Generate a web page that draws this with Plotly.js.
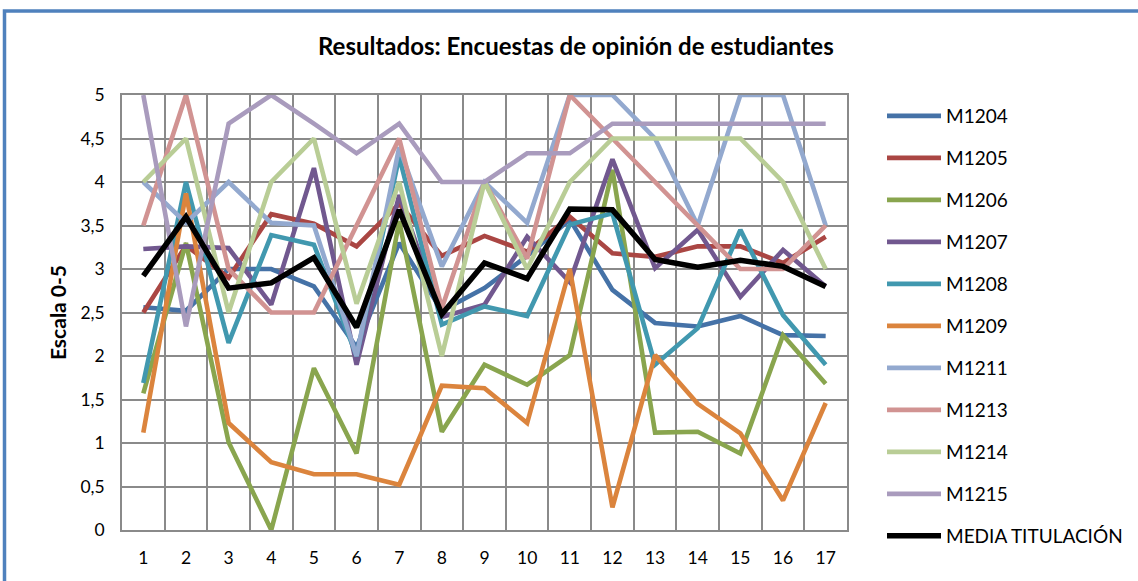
<!DOCTYPE html>
<html>
<head>
<meta charset="utf-8">
<script src="https://cdn.plot.ly/plotly-3.0.1.min.js"></script>
<style>
html,body{margin:0;padding:0;background:#fff;}
#chart{width:1138px;height:581px;}
</style>
</head>
<body>
<div id="chart"></div>
<script>
const categories = ["1","2","3","4","5","6","7","8","9","10","11","12","13","14","15","16","17"];
const seriesNames = ["M1204","M1205","M1206","M1207","M1208","M1209","M1211","M1213","M1214","M1215","MEDIA TITULACIÓN"];

const M1204 = [2.56, 2.52, 3.0, 3.0, 2.8, 2.1, 3.3, 2.52, 2.78, 3.15, 3.57, 2.76, 2.38, 2.34, 2.46, 2.24, 2.23];
const M1205 = [2.5, 3.27, 2.9, 3.63, 3.52, 3.26, 3.75, 3.15, 3.38, 3.2, 3.6, 3.18, 3.14, 3.26, 3.26, 3.07, 3.37];
const M1206 = [1.57, 3.3, 1.01, 0.0, 1.86, 0.88, 3.55, 1.13, 1.9, 1.67, 2.01, 4.14, 1.12, 1.13, 0.88, 2.24, 1.68];
const M1207 = [3.23, 3.26, 3.24, 2.59, 4.16, 1.9, 3.85, 2.45, 2.59, 3.37, 2.85, 4.26, 3.01, 3.45, 2.68, 3.22, 2.8];
const M1208 = [1.69, 4.0, 2.15, 3.39, 3.28, 2.0, 4.29, 2.36, 2.57, 2.46, 3.51, 3.64, 1.9, 2.32, 3.45, 2.47, 1.9];
const M1209 = [1.12, 3.87, 1.23, 0.78, 0.64, 0.64, 0.52, 1.66, 1.63, 1.23, 3.0, 0.26, 2.01, 1.45, 1.11, 0.34, 1.46];
const M1211 = [4.0, 3.53, 4.0, 3.53, 3.5, 2.0, 4.4, 3.03, 4.0, 3.53, 5.0, 5.0, 4.5, 3.5, 5.0, 5.0, 3.5];
const M1213 = [3.5, 5.0, 3.0, 2.5, 2.5, 3.5, 4.5, 2.55, 4.0, 3.12, 5.0, 4.5, 4.0, 3.5, 3.0, 3.0, 3.5];
const M1214 = [4.0, 4.5, 2.5, 4.0, 4.5, 2.6, 4.0, 2.0, 4.0, 3.0, 4.0, 4.5, 4.5, 4.5, 4.5, 4.0, 3.0];
const M1215 = [5.0, 2.34, 4.67, 5.0, 4.67, 4.33, 4.67, 4.0, 4.0, 4.33, 4.33, 4.67, 4.67, 4.67, 4.67, 4.67, 4.67];
const MEDIA = [2.92, 3.6, 2.78, 2.84, 3.13, 2.33, 3.68, 2.48, 3.07, 2.89, 3.69, 3.68, 3.11, 3.02, 3.1, 3.03, 2.8];

const yTickVals = [0,0.5,1,1.5,2,2.5,3,3.5,4,4.5,5];
const yTickText = ["0","0,5","1","1,5","2","2,5","3","3,5","4","4,5","5"];

const allSeries = [M1204,M1205,M1206,M1207,M1208,M1209,M1211,M1213,M1214,M1215,MEDIA];
const colors = ["#4572A7","#AA4643","#89A54E","#71588F","#4198AF","#DB843D","#93A9CF","#D19392","#B9CD96","#A99BBD","#000000"];
const xNum = categories.map(c => Number(c));

const traces = allSeries.map((vals, i) => ({
  type: "scatter",
  mode: "lines",
  name: seriesNames[i],
  x: xNum,
  y: vals,
  xaxis: "x",
  yaxis: "y",
  legendgroup: "g" + i,
  line: {color: colors[i], width: i === 10 ? 5.5 : 4.6},
  hoverinfo: "x+y+name"
}));

// dummy trace for the category-boundary grid axis
const gridX = [];
for (let k = 0; k <= categories.length; k++) gridX.push(k + 0.5);
traces.unshift({type:"scatter", mode:"lines", x:[null], y:[null], xaxis:"x2", yaxis:"y", showlegend:false, hoverinfo:"skip"});

const fontFam = "Lato, 'Open Sans', sans-serif";
const gridCol = "#8A8A8A";

const layout = {
  width: 1138,
  height: 581,
  paper_bgcolor: "#ffffff",
  plot_bgcolor: "#ffffff",
  separators: ",.",
  margin: {l:122, r:291, t:95, b:51, pad:0, autoexpand: false},
  title: {
    text: "<b>Resultados: Encuestas de opinión de estudiantes</b>",
    font: {family: fontFam, size: 24, color: "#000"},
    xref: "container", x: 0.506, xanchor: "center",
    yref: "container", y: 1 - 47/581, yanchor: "middle"
  },
  xaxis: {
    range: [0.5, categories.length + 0.5],
    tickmode: "array",
    tickvals: xNum,
    ticktext: categories,
    showgrid: false,
    zeroline: false,
    showline: true,
    linecolor: gridCol,
    linewidth: 1.5,
    mirror: true,
    ticks: "",
    ticklabelstandoff: 11,
    tickfont: {family: fontFam, size: 17.5, color: "#000"},
    automargin: false,
    fixedrange: true
  },
  xaxis2: {
    overlaying: "x",
    range: [0.5, categories.length + 0.5],
    tickmode: "array",
    tickvals: gridX,
    showticklabels: false,
    showgrid: true,
    gridcolor: gridCol,
    gridwidth: 1.5,
    zeroline: false,
    showline: false,
    ticks: "",
    automargin: false,
    layer: "below traces"
  },
  yaxis: {
    range: [0, 5],
    tickmode: "array",
    tickvals: yTickVals,
    ticktext: yTickText,
    showgrid: true,
    gridcolor: gridCol,
    gridwidth: 1.5,
    zeroline: false,
    showline: true,
    linecolor: gridCol,
    linewidth: 1.5,
    mirror: true,
    ticks: "",
    ticklabelstandoff: 12,
    tickfont: {family: fontFam, size: 17.5, color: "#000"},
    title: {text: "<b>Escala 0-5</b>", font: {family: fontFam, size: 21, color: "#000"}, standoff: 8},
    automargin: false,
    fixedrange: true
  },
  legend: {
    x: (882 - 122) / 725,
    xanchor: "left",
    y: (530 - 97) / 435,
    yanchor: "top",
    traceorder: "grouped",
    tracegroupgap: 14.3,
    itemwidth: 54,
    maxheight: 560,
    font: {family: fontFam, size: 19, color: "#000"},
    bgcolor: "rgba(0,0,0,0)",
    borderwidth: 0
  },
  shapes: [
    {
      type: "rect", xref: "paper", yref: "paper",
      x0: (4.5 - 122) / 725, x1: (1300 - 122) / 725,
      y0: (530 - 700) / 435, y1: (530 - 11) / 435,
      line: {color: "#4F81BD", width: 3.5},
      fillcolor: "rgba(0,0,0,0)",
      layer: "above"
    }
  ],
  showlegend: true,
  hovermode: "closest"
};

Plotly.newPlot("chart", traces, layout, {displayModeBar: false, staticPlot: false});
</script>
</body>
</html>
